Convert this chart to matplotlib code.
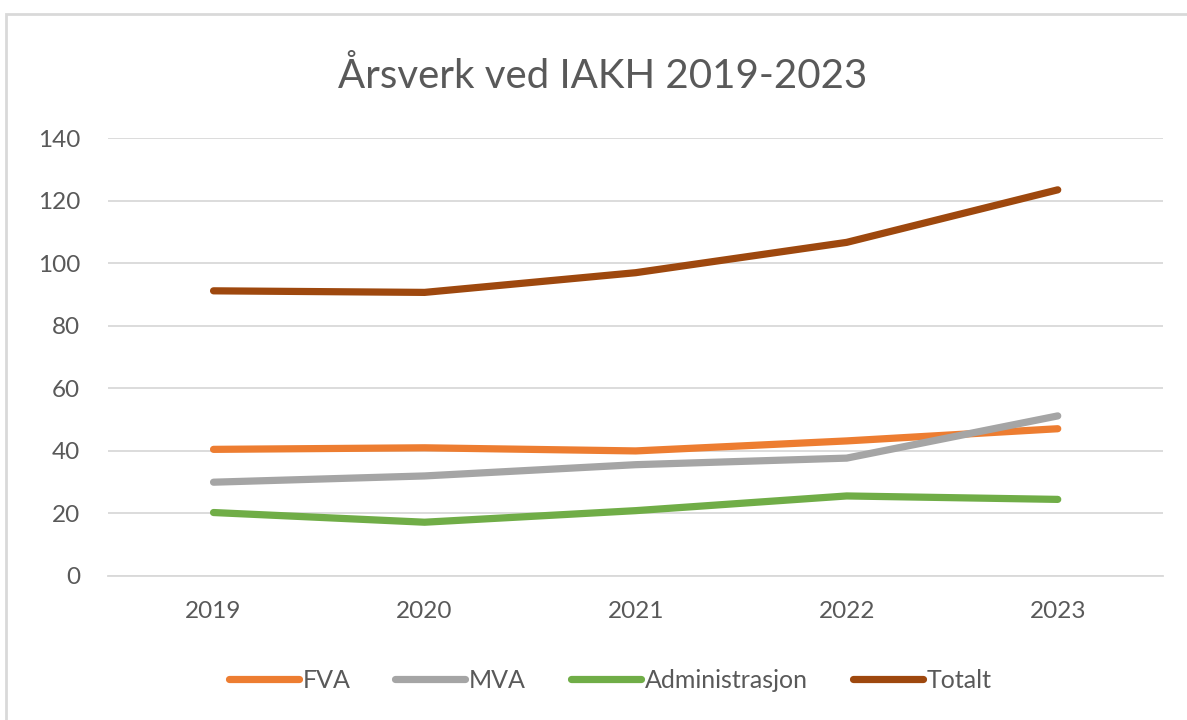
import matplotlib
matplotlib.use('Agg')
import matplotlib.pyplot as plt
from matplotlib.patches import Rectangle

plt.rcParams['font.family'] = ['Lato', 'DejaVu Sans']

years = ['2019', '2020', '2021', '2022', '2023']
fva = [40.5, 41.0, 40.0, 43.2, 47.1]
mva = [30.0, 32.0, 35.6, 37.7, 51.2]
admin = [20.3, 17.2, 20.9, 25.6, 24.5]
totalt = [91.2, 90.7, 97.0, 106.7, 123.5]

series = [('FVA', fva, '#ED7D31'),
          ('MVA', mva, '#A5A5A5'),
          ('Administrasjon', admin, '#70AD47'),
          ('Totalt', totalt, '#9E480E')]

fig = plt.figure(figsize=(11.87, 7.2), dpi=100)
# frame around the chart, like the spreadsheet chart box
fig.patches.append(Rectangle((0.005, -0.01), 1.2, 0.99, transform=fig.transFigure,
                             fill=False, edgecolor='#D9D9D9', linewidth=2))

ax = fig.add_axes([0.091, 0.2, 0.889, 0.608])
x = range(len(years))
for name, vals, col in series:
    ax.plot(x, vals, color=col, linewidth=5.2, solid_capstyle='round',
            solid_joinstyle='round', label=name)

ax.set_xlim(-0.5, 4.5)
ax.set_ylim(0, 140)
ax.set_yticks(range(0, 141, 20))
ax.set_xticks(list(x))
ax.set_xticklabels(years)
ax.grid(axis='y', color='#D9D9D9', linewidth=1.3)
ax.set_axisbelow(True)
for s in ['top', 'right', 'left']:
    ax.spines[s].set_visible(False)
ax.spines['bottom'].set_color('#D9D9D9')
ax.spines['bottom'].set_linewidth(1.3)
ax.tick_params(length=0, labelsize=17.5, labelcolor='#595959')
ax.tick_params(axis='x', pad=18)
ax.tick_params(axis='y', pad=20)

fig.text(0.508, 0.895, 'Årsverk ved IAKH 2019-2023', ha='center', va='center',
         fontsize=29, color='#595959')

fig.legend(loc='center', bbox_to_anchor=(0.514, 0.055), ncol=4, frameon=False,
           fontsize=18, labelcolor='#595959', handlelength=2.8, handletextpad=0.15,
           columnspacing=1.8)

fig.savefig('out.png', dpi=100)
